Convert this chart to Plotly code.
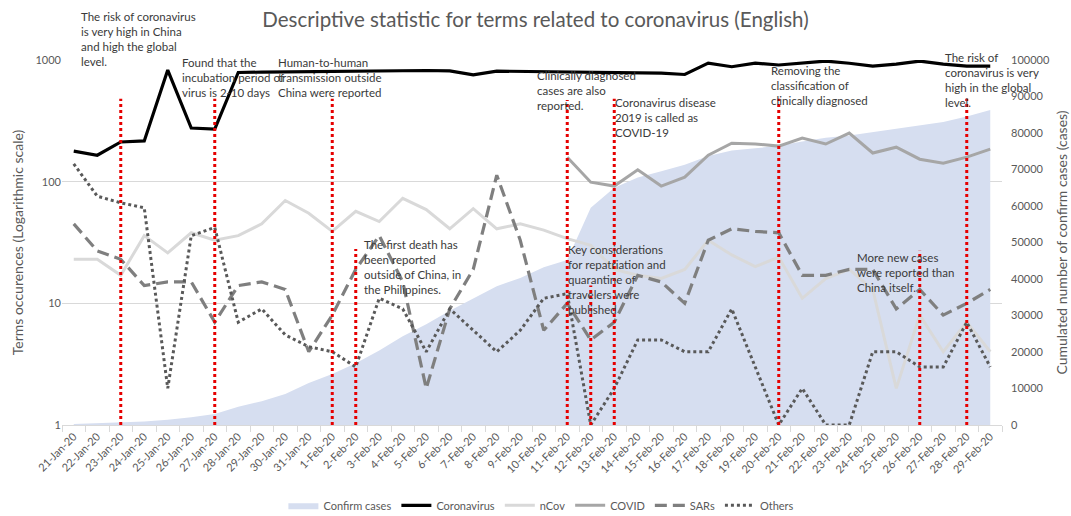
import pandas as pd
import plotly.graph_objects as go

# Daily categories 21 Jan 2020 .. 29 Feb 2020
dates = [d.strftime("%-d-%b-%y") for d in pd.date_range("2020-01-21", "2020-02-29", freq="D")]

# Cumulative confirmed cases (right axis)
confirm_cases = [300, 550, 650, 950, 1450, 2100, 3000, 5000, 6500, 8500,
                 11500, 14000, 16900, 20400, 24300, 27600, 31300, 34600, 38000, 40300,
                 43200, 45200, 59500, 65000, 67800, 69500, 71300, 73700, 75200, 75800,
                 76500, 77700, 78700, 79300, 80200, 81000, 81900, 83000, 84500, 86300]

# Term occurrences (left, logarithmic axis)
coronavirus = [178, 165, 212, 216, 826, 276, 271, 790, 795, 800,
               805, 810, 815, 815, 820, 820, 815, 755, 810, 805,
               800, 790, 790, 780, 785, 780, 760, 943, 880, 943,
               910, 943, 980, 940, 890, 925, 980, 925, 890, 890]
ncov = [23, 23, 17, 36, 26, 38, 33, 36, 45, 70,
        55, 39, 57, 47, 73, 59, 41, 60, 41, 45,
        40, 34, 30, 19, 17, 16, 19, 33, 25, 20,
        24, 11, 16, 19, 13, 2, 8, 4, 7, 4]
covid = [None] * 21 + [159, 99, 92, 125, 92, 109, 165, 207, 204,
                       196, 228, 204, 251, 172, 192, 153, 142, 159, 185]
sars = [45, 27, 23, 14, 15, 15, 7, 14, 15, 13,
        4, 8, 19, 36, 15, 2, 9, 19, 113, 33,
        6, 10, 5, 7, 17, 15, 10, 33, 41, 39,
        38, 17, 17, 19, 19, 9, 13, 8, 10, 13]
others = [140, 76, 67, 61, 2, 36, 42, 7, 9, 5.5,
          4.4, 4, 3, 11, 9, 4, 9, 6, 4, 6,
          11, 12, 1, 2, 5, 5, 4, 4, 9, 3,
          1, 2, 1, 1, 4, 4, 3, 3, 7, 3]

# Key events: date, marker height (left axis units) and label text
event_dates = ["23-Jan-20", "27-Jan-20", "1-Feb-20", "2-Feb-20", "11-Feb-20",
               "12-Feb-20", "13-Feb-20", "20-Feb-20", "26-Feb-20", "28-Feb-20"]
event_tops = [480, 480, 480, 28, 470, 14, 480, 480, 27, 480]
event_texts = [
    "The risk of coronavirus<br>is very high in China<br>and high the global<br>level.",
    "Found that the<br>incubation period of<br>virus is 2-10 days",
    "Human-to-human<br>transmission outside<br>China were reported",
    "The first death has<br>been reported<br>outside of China, in<br>the Philippines.",
    "Clinically diagnosed<br>cases are also<br>reported.",
    "Key considerations<br>for repatriation and<br>quarantine of<br>travelers were<br>published",
    "Coronavirus disease<br>2019 is called as<br>COVID-19",
    "Removing the<br>classification of<br>clinically diagnosed",
    "More new cases<br>were reported than<br>China itself.",
    "The risk of<br>coronavirus is very<br>high in the global<br>level.",
]
# Label placement: horizontal pixel offset from the event date, top in paper units
label_dx = [-42, -35, -56, 6, -32, -25, -1, -10, -65, -24]
label_top = [1.142, 1.016, 1.016, 0.518, 0.981, 0.504, 0.907, 0.995, 0.482, 1.030]

FONT = "Lato, sans-serif"
GREY = "#595959"

fig = go.Figure()

fig.add_trace(go.Scatter(
    x=dates, y=confirm_cases, name="Confirm cases", yaxis="y",
    mode="lines", fill="tozeroy", fillcolor="#D6DEF0",
    line=dict(width=0, color="#D6DEF0"), hoverinfo="skip"))

series = [
    ("Coronavirus", coronavirus, dict(color="#000000", width=3.2)),
    ("nCov", ncov, dict(color="#D9D9D9", width=3)),
    ("COVID", covid, dict(color="#A6A6A6", width=3)),
    ("SARs", sars, dict(color="#7F7F7F", width=3.2, dash="12px,6px")),
    ("Others", others, dict(color="#595959", width=3, dash="dot")),
]
for name, vals, style in series:
    fig.add_trace(go.Scatter(x=dates, y=vals, name=name, yaxis="y2",
                             mode="lines", line=style, connectgaps=False))

for d, top in zip(event_dates, event_tops):
    fig.add_trace(go.Scatter(x=[d, d], y=[1, top], yaxis="y2", mode="lines",
                             line=dict(color="#E60000", width=3, dash="dot"),
                             showlegend=False, hoverinfo="skip"))

annotations = []
for d, txt, dx, yt in zip(event_dates, event_texts, label_dx, label_top):
    annotations.append(dict(
        x=d, xref="x", xshift=dx, xanchor="left",
        y=yt, yref="paper", yanchor="top",
        text=txt, showarrow=False, align="left",
        font=dict(family=FONT, size=11.5, color="#3A3A3A")))

fig.update_layout(
    width=1071, height=516,
    margin=dict(l=62, r=69, t=60, b=91, autoexpand=False),
    paper_bgcolor="white", plot_bgcolor="white",
    font=dict(family=FONT, color=GREY),
    title=dict(text="Descriptive statistic for terms related to coronavirus (English)",
               x=0.5, xanchor="center", y=0.962, yanchor="middle",
               font=dict(family=FONT, size=20.5, color=GREY)),
    xaxis=dict(type="category", categoryorder="array", categoryarray=dates,
               range=[-0.5, len(dates) - 0.5], tickangle=-45,
               ticks="outside", tickson="boundaries", ticklen=6,
               tickcolor="#D9D9D9", showline=True, linecolor="#D9D9D9",
               showgrid=False, tickfont=dict(size=11, color=GREY)),
    yaxis=dict(range=[0, 100000], dtick=10000, side="right", tickformat="d",
               showgrid=False, zeroline=False, showline=False,
               ticklabelstandoff=8,
               tickfont=dict(size=11, color=GREY),
               title=dict(text="Cumulated number of confirm cases (cases)",
                          font=dict(size=14, color=GREY), standoff=8)),
    yaxis2=dict(type="log", range=[0, 3], overlaying="y", side="left",
                tickvals=[1, 10, 100, 1000], ticktext=["1", "10", "100", "1000"],
                showgrid=True, gridcolor="#D9D9D9", gridwidth=1,
                zeroline=False, showline=False,
                tickfont=dict(size=11, color=GREY),
                title=dict(text="Terms occurences (Logarithmic scale)",
                           font=dict(size=14, color=GREY), standoff=8)),
    legend=dict(orientation="h", x=0.51, xanchor="center", y=-0.22,
                yanchor="middle", font=dict(size=11, color=GREY),
                itemwidth=30),
    annotations=annotations,
    showlegend=True,
)

fig.write_html("out.html")
